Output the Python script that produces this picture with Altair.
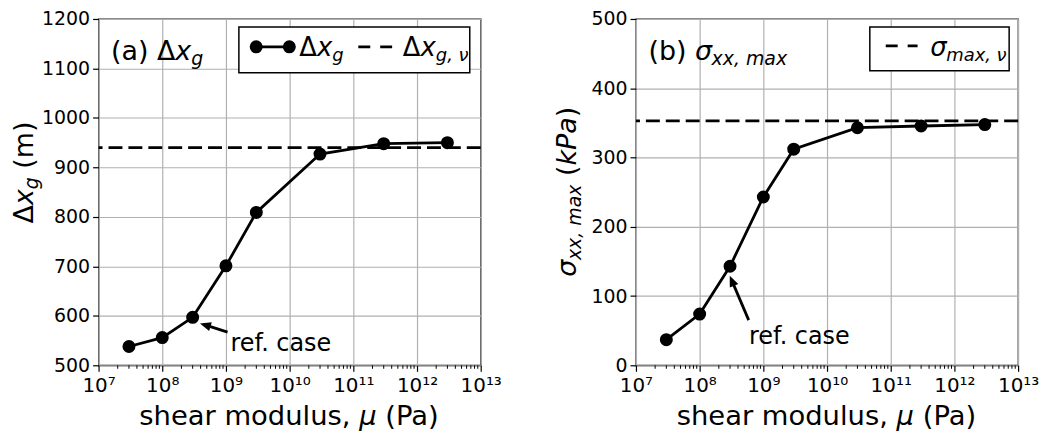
import altair as alt
import pandas as pd

FONT = "DejaVu Sans"

# ---------------- data ----------------
mu = [3e7, 1e8, 3e8, 1e9, 3e9, 3e10, 3e11, 3e12]
dxg = [538, 556, 597, 701, 809, 927, 948, 950]
dxg_nu = [940]
sig = [37, 74, 143, 243, 312, 343, 345.5, 347.5]
sig_nu = [353]

x_exp = [7, 8, 9, 10, 11, 12, 13]
x_major = [10.0 ** e for e in x_exp]
x_minor = [k * 10.0 ** e for e in x_exp[:-1] for k in range(2, 10)]
y_ticks_a = [500, 600, 700, 800, 900, 1000, 1100, 1200]
y_ticks_b = [0, 100, 200, 300, 400, 500]

ann_label = "ref. case"
# annotation anchors in data coordinates (text, arrow tail, arrow neck, arrow tip)
ann_a = {"text": (1.18e9, 529), "tail": (1.06e9, 567), "neck": (4.82e8, 581.2), "tip": (3.91e8, 584.6)}
ann_b = {"text": (5.96e8, 30.5), "tail": (5.89e8, 65.2), "neck": (3.23e8, 121.5), "tip": (2.97e8, 129.3)}

# ---------------- helpers ----------------
SUP = str.maketrans("0123456789", "⁰¹²³⁴⁵⁶⁷⁸⁹")
e_expr = "round(log(datum.value)/LN10)"
label_expr = " : ".join(f"{e_expr} == {e} ? '10{str(e).translate(SUP)}'" for e in x_exp) + " : ''"

W = {"(": .390, ")": .390, " ": .318, ",": .318, ".": .318, "a": .613, "b": .635,
     "c": .550, "d": .635, "e": .615, "f": .352, "g": .635, "h": .634, "k": .579,
     "l": .278, "m": .974, "o": .612, "r": .411, "s": .521, "u": .634, "x": .592,
     "P": .603, "Δ": .684, "σ": .618, "μ": .636, "ν": .592}


def adv(t, s):
    return sum(W.get(c, .6) for c in t) * s


one = pd.DataFrame({"k": [0]})
OFF = 3  # plot top sits this many px below the reference's, so page-fixed texts shift up


def rich(pieces, x0, y0, angle=0, center=False):
    total = sum(adv(p[0], p[1]) for p in pieces)
    off = -total / 2 if center else 0.0
    out = []
    for p in pieces:
        t, s = p[0], p[1]
        it = len(p) > 2 and p[2]
        dy = p[3] if len(p) > 3 else 0
        lead = len(t) - len(t.lstrip(" "))
        off += lead * W[" "] * s
        t = t.lstrip(" ")
        kw = dict(text=t, font=FONT, fontSize=s, align="left", baseline="alphabetic",
                  color="black", dx=round(off, 2), dy=dy)
        if it:
            kw["fontStyle"] = "italic"
        if angle:
            kw["angle"] = angle
        out.append(alt.Chart(one).mark_text(**kw).encode(x=alt.value(x0), y=alt.value(y0 - OFF)))
        off += adv(t, s)
    return out


PW, PH = 384, 348
LW = 2.8
MS = 170


def panel(vals, nu, ydom, yticks, ann, head_angle, title_p, ytitle_p, ytitle_xy, legend_layers):
    xs = alt.Scale(type="log", domain=[1e7, 1e13], nice=False)
    xa = alt.Axis(values=x_major, labelExpr=label_expr, title=None, grid=True, tickSize=6,
                  labelPadding=4, labelFontSize=20, labelFlush=False, labelOverlap=False)
    ys = alt.Scale(domain=ydom, nice=False, zero=False)
    ya = alt.Axis(values=yticks, title=None, grid=True, tickSize=6, labelPadding=3,
                  labelFontSize=19, format="d", labelOverlap=False)
    X = alt.X("mu:Q", scale=xs, axis=xa)
    Y = alt.Y("v:Q", scale=ys, axis=ya)

    df = pd.DataFrame({"mu": mu, "v": vals})
    layers = []
    layers.append(alt.Chart(pd.DataFrame({"v": nu})).mark_rule(
        color="black", strokeWidth=LW, strokeDash=[14, 6]).encode(y=Y))
    layers.append(alt.Chart(df).mark_line(color="black", strokeWidth=LW).encode(x=X, y=Y))
    layers.append(alt.Chart(df).mark_point(filled=True, color="black", opacity=1, size=MS).encode(x=X, y=Y))
    # minor ticks
    layers.append(alt.Chart(pd.DataFrame({"mu": x_minor})).mark_rule(color="black", strokeWidth=1).encode(
        x=X, y=alt.value(PH), y2=alt.value(PH + 3.5)))
    # annotation
    adf = pd.DataFrame({"mu": [ann["tail"][0]], "v": [ann["tail"][1]],
                        "mu2": [ann["neck"][0]], "v2": [ann["neck"][1]]})
    layers.append(alt.Chart(adf).mark_rule(color="black", strokeWidth=LW).encode(
        x=X, y=Y, x2="mu2:Q", y2="v2:Q"))
    tip = pd.DataFrame({"mu": [ann["tip"][0]], "v": [ann["tip"][1]]})
    layers.append(alt.Chart(tip).mark_point(shape="M0,0L0.42,1L-0.42,1Z", filled=True, color="black",
                                            opacity=1, size=484, angle=head_angle, strokeWidth=0).encode(x=X, y=Y))
    tdf = pd.DataFrame({"mu": [ann["text"][0]], "v": [ann["text"][1]]})
    layers.append(alt.Chart(tdf).mark_text(text=ann_label, font=FONT, fontSize=24, align="left",
                                           baseline="alphabetic", color="black").encode(x=X, y=Y))
    # panel title
    layers += rich(title_p, 12.5, 44)
    # y title
    layers += rich(ytitle_p, ytitle_xy[0], ytitle_xy[1], angle=270)
    # x title
    layers += rich([("shear modulus, ", 27.5), ("μ", 27.5, True), (" (Pa)", 27.5)], PW / 2, 410.5, center=True)
    layers += legend_layers
    return alt.layer(*layers).properties(width=PW, height=PH)


def box(x1, x2, y1, y2):
    return alt.Chart(one).mark_rect(fill="white", stroke="black", strokeWidth=1.5).encode(
        x=alt.value(x1), x2=alt.value(x2), y=alt.value(y1 - OFF), y2=alt.value(y2 - OFF))


def hseg(x1, x2, y, dash=None):
    kw = dict(color="black", strokeWidth=LW)
    if dash:
        kw["strokeDash"] = dash
    return alt.Chart(one).mark_rule(**kw).encode(x=alt.value(x1), x2=alt.value(x2), y=alt.value(y - OFF))


def dot(x, y):
    return alt.Chart(one).mark_point(filled=True, color="black", opacity=1, size=MS).encode(
        x=alt.value(x), y=alt.value(y - OFF))


leg_a = [box(141, 373, 11, 57), hseg(158.4, 191.7, 31), dot(158.4, 31), dot(191.7, 31)]
leg_a += rich([("Δ", 26), ("x", 26, True), ("g", 18, True, 5)], 201.7, 40)
leg_a += [hseg(261, 295, 31, dash=[12, 10])]
leg_a += rich([("Δ", 26), ("x", 26, True), ("g, ν", 18, True, 5)], 305.7, 40)

leg_b = [box(235, 375, 11, 55), hseg(251, 283, 30, dash=[12, 10])]
leg_b += rich([("σ", 26, True), ("max, ν", 18, True, 5)], 295.7, 40)

pa = panel(dxg, dxg_nu, [500, 1200], y_ticks_a, ann_a, 286.5,
           [("(a) ", 27), ("Δ", 27), ("x", 27, True), ("g", 19, True, 5)],
           [("Δ", 27), ("x", 27, True), ("g", 19, True, 5), (" (m)", 27)], (-65.5, 208.5), leg_a)

pb = panel(sig, sig_nu, [0, 500], y_ticks_b, ann_b, 337,
           [("(b) ", 27), ("σ", 27, True), ("xx, max", 19, True, 5)],
           [("σ", 27, True), ("xx, max", 19, True, 5), (" (", 27), ("kPa", 27, True), (")", 27)],
           (-60, 262), leg_b)

chart = alt.hconcat(pa, pb, spacing=156, bounds="flush").properties(
    padding={"left": 2, "top": 0, "right": 0, "bottom": 0}
).configure_view(stroke="black", strokeWidth=1.3).configure_axis(
    labelFont=FONT, labelColor="black", tickColor="black", tickWidth=1.2,
    gridColor="#b0b0b0", gridWidth=1.2, domain=False)

chart.save("out.html", embed_options={"renderer": "svg", "actions": False})
